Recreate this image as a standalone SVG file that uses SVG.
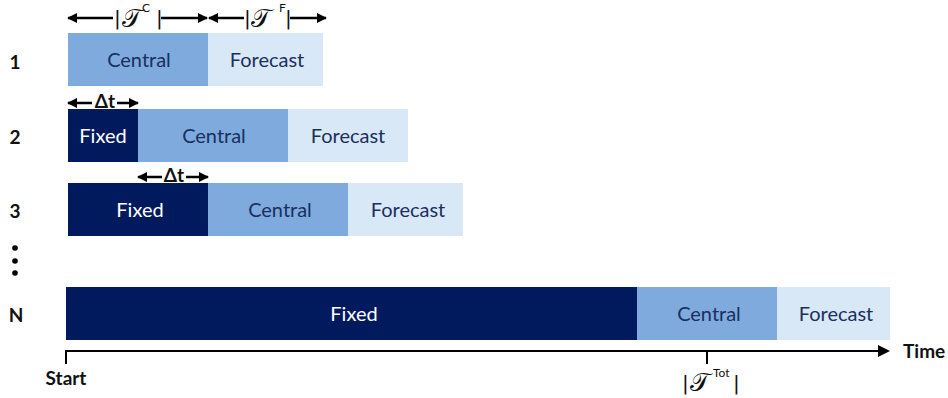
<svg xmlns="http://www.w3.org/2000/svg" width="948" height="398" viewBox="0 0 948 398">
<style>
.fixed{fill:#011a5e}
.central{fill:#7eaade}
.forecast{fill:#d9e8f6}
.t{font-family:Lato,"Liberation Sans",sans-serif;font-size:20px;text-anchor:middle}
.tw{fill:#ffffff}
.td{fill:#1b2f5e}
.lbl{font-family:Lato,"Liberation Sans",sans-serif;font-size:19px;font-weight:bold;fill:#111}
.bar1{font-family:"DejaVu Sans",sans-serif;font-size:20px;fill:#111}
.math{font-family:"DejaVu Serif","DejaVu Sans",serif;font-size:26px;fill:#111}
.sup{font-family:Lato,"Liberation Sans",sans-serif;font-size:12px;fill:#111}
.ar{stroke:#000;stroke-width:2.5;fill:none}
.bar{stroke:#000;stroke-width:2;fill:none}
</style>
<defs>
<marker id="ah" viewBox="0 0 10 10" refX="9" refY="5" markerWidth="4" markerHeight="4" orient="auto-start-reverse"><path d="M0,0 L10,5 L0,10 z" fill="#000"/></marker>
</defs>
<g id="row-labels">
<text class="lbl" x="15" y="69" text-anchor="middle">1</text>
<text class="lbl" x="15" y="144" text-anchor="middle">2</text>
<text class="lbl" x="15" y="218" text-anchor="middle">3</text>
<circle cx="15" cy="248" r="2.8" fill="#000"/>
<circle cx="15" cy="261" r="2.8" fill="#000"/>
<circle cx="15" cy="273" r="2.8" fill="#000"/>
<text class="lbl" x="16" y="322" text-anchor="middle">N</text>
</g>
<g id="row1">
<rect class="central" x="68" y="33" width="140" height="53"/>
<text class="t td" x="139" y="67">Central</text>
<rect class="forecast" x="208" y="33" width="115" height="53"/>
<text class="t td" x="267" y="67">Forecast</text>
</g>
<g id="row2">
<rect class="fixed" x="68" y="109" width="70" height="53"/>
<text class="t tw" x="103" y="143">Fixed</text>
<rect class="central" x="138" y="109" width="150" height="53"/>
<text class="t td" x="214" y="143">Central</text>
<rect class="forecast" x="288" y="109" width="120" height="53"/>
<text class="t td" x="348" y="143">Forecast</text>
</g>
<g id="row3">
<rect class="fixed" x="68" y="183" width="140" height="53"/>
<text class="t tw" x="140" y="217">Fixed</text>
<rect class="central" x="208" y="183" width="140" height="53"/>
<text class="t td" x="280" y="217">Central</text>
<rect class="forecast" x="348" y="183" width="115" height="53"/>
<text class="t td" x="408" y="217">Forecast</text>
</g>
<g id="rowN">
<rect class="fixed" x="66" y="287" width="571" height="53"/>
<text class="t tw" x="354" y="321">Fixed</text>
<rect class="central" x="637" y="287" width="140" height="53"/>
<text class="t td" x="709" y="321">Central</text>
<rect class="forecast" x="777" y="287" width="113" height="53"/>
<text class="t td" x="836" y="321">Forecast</text>
</g>
<g id="connectors">
<line class="ar" x1="68" y1="18" x2="113" y2="18" marker-start="url(#ah)"/>
<line class="ar" x1="161" y1="18" x2="207" y2="18" marker-end="url(#ah)"/>
<line class="ar" x1="209" y1="18" x2="244" y2="18" marker-start="url(#ah)"/>
<line class="ar" x1="290" y1="18" x2="326" y2="18" marker-end="url(#ah)"/>
<line class="ar" x1="68" y1="103" x2="92" y2="103" marker-start="url(#ah)"/>
<line class="ar" x1="117" y1="103" x2="138" y2="103" marker-end="url(#ah)"/>
<line class="ar" x1="138" y1="177" x2="162" y2="177" marker-start="url(#ah)"/>
<line class="ar" x1="186" y1="177" x2="208" y2="177" marker-end="url(#ah)"/>
<polyline class="bar" points="66,364 66,351 880,351" />
<polygon points="878,345 890,351 878,357" fill="#000"/>
<line class="bar" x1="707" y1="351" x2="707" y2="364"/>
</g>
<g id="annotations">
<text class="bar1" x="114" y="25">|</text>
<text class="math" x="122" y="27">𝒯</text>
<text class="sup" x="142" y="12">C</text>
<text class="bar1" x="156" y="25">|</text>
<text class="bar1" x="244" y="25">|</text>
<text class="math" x="251" y="27">𝒯</text>
<text class="sup" x="279" y="12">F</text>
<text class="bar1" x="285" y="25">|</text>
<text class="lbl" x="105" y="108" text-anchor="middle">Δt</text>
<text class="lbl" x="174" y="182" text-anchor="middle">Δt</text>
<text class="lbl" x="66" y="385" text-anchor="middle">Start</text>
<text class="lbl" x="903" y="358">Time</text>
<text class="bar1" x="682" y="390">|</text>
<text class="math" x="690" y="391">𝒯</text>
<text class="sup" x="713" y="377">Tot</text>
<text class="bar1" x="733" y="390">|</text>
</g>
</svg>
